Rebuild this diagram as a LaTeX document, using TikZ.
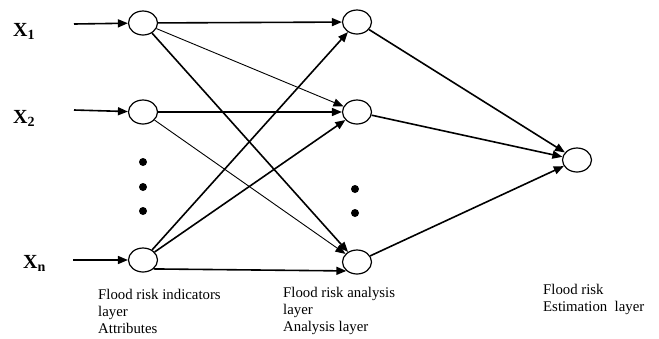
\documentclass[tikz,border=0pt]{standalone}
\usepackage{fontspec}
\setmainfont{Liberation Serif}
\usetikzlibrary{arrows.meta,shapes.geometric}
\begin{document}
\begin{tikzpicture}[x=1pt,y=-1pt,
  neuron/.style={draw,line width=1.2pt,ellipse,minimum width=29pt,minimum height=24pt,inner sep=0pt},
  thickedge/.style={line width=1.6pt,-{Triangle[length=10pt,width=8pt]}},
  thinedge/.style={line width=0.9pt,-{Triangle[length=10pt,width=8pt]}},
  xlab/.style={font=\fontsize{20}{22}\selectfont\bfseries,inner sep=0pt,anchor=base west},
  caption/.style={font=\fontsize{14.8}{17}\selectfont,align=left,inner sep=0pt,anchor=north west},
  dot/.style={circle,fill=black,minimum size=8pt,inner sep=0pt}]
\useasboundingbox (0,0) rectangle (659,338);
% input labels
\node[xlab] (x1) at (13,36) {X\textsubscript{1}};
\node[xlab] (x2) at (13,123) {X\textsubscript{2}};
\node[xlab] (xn) at (23,268) {X\textsubscript{n}};
\coordinate (s1) at (74,24);
\coordinate (s2) at (74,110);
\coordinate (sn) at (73,260);
% nodes
\node[neuron] (I1) at (143,23) {};
\node[neuron] (I2) at (143,112) {};
\node[neuron] (In) at (143,260) {};
\node[neuron] (H1) at (357,22) {};
\node[neuron] (H2) at (357,112) {};
\node[neuron] (H3) at (357,262) {};
\node[neuron] (O) at (577,160) {};
% dots
\node[dot] (d1) at (143,162) {};
\node[dot] (d2) at (143,187) {};
\node[dot] (d3) at (143,211) {};
\node[dot] (d4) at (355,189) {};
\node[dot] (d5) at (355,213) {};
% input arrows
\draw[thickedge] (s1) -- (I1);
\draw[thickedge] (s2) -- (I2);
\draw[thickedge] (sn) -- (In);
% input -> hidden
\draw[thickedge] (I1) -- (H1);
\draw[thinedge] (I1) -- (H2);
\draw[thickedge] (I1) -- (H3);
\draw[thickedge] (I2) -- (H2);
\draw[thinedge] (I2) -- (H3);
\draw[thickedge] (In) -- (H1);
\draw[thickedge] (In) -- (H2);
\draw[thickedge] (In.-40) -- (H3.-140);
% hidden -> output
\draw[thickedge] (H1) -- (O);
\draw[thickedge] (H2) -- (O);
\draw[thickedge] (H3) -- (O);
% captions
\node[caption] (c1) at (98,289) {Flood risk indicators\\layer\\Attributes};
\node[caption] (c2) at (283,287) {Flood risk analysis\\layer\\Analysis layer};
\node[caption] (c3) at (543,284) {Flood risk\\Estimation~ layer};
\end{tikzpicture}
\end{document}
